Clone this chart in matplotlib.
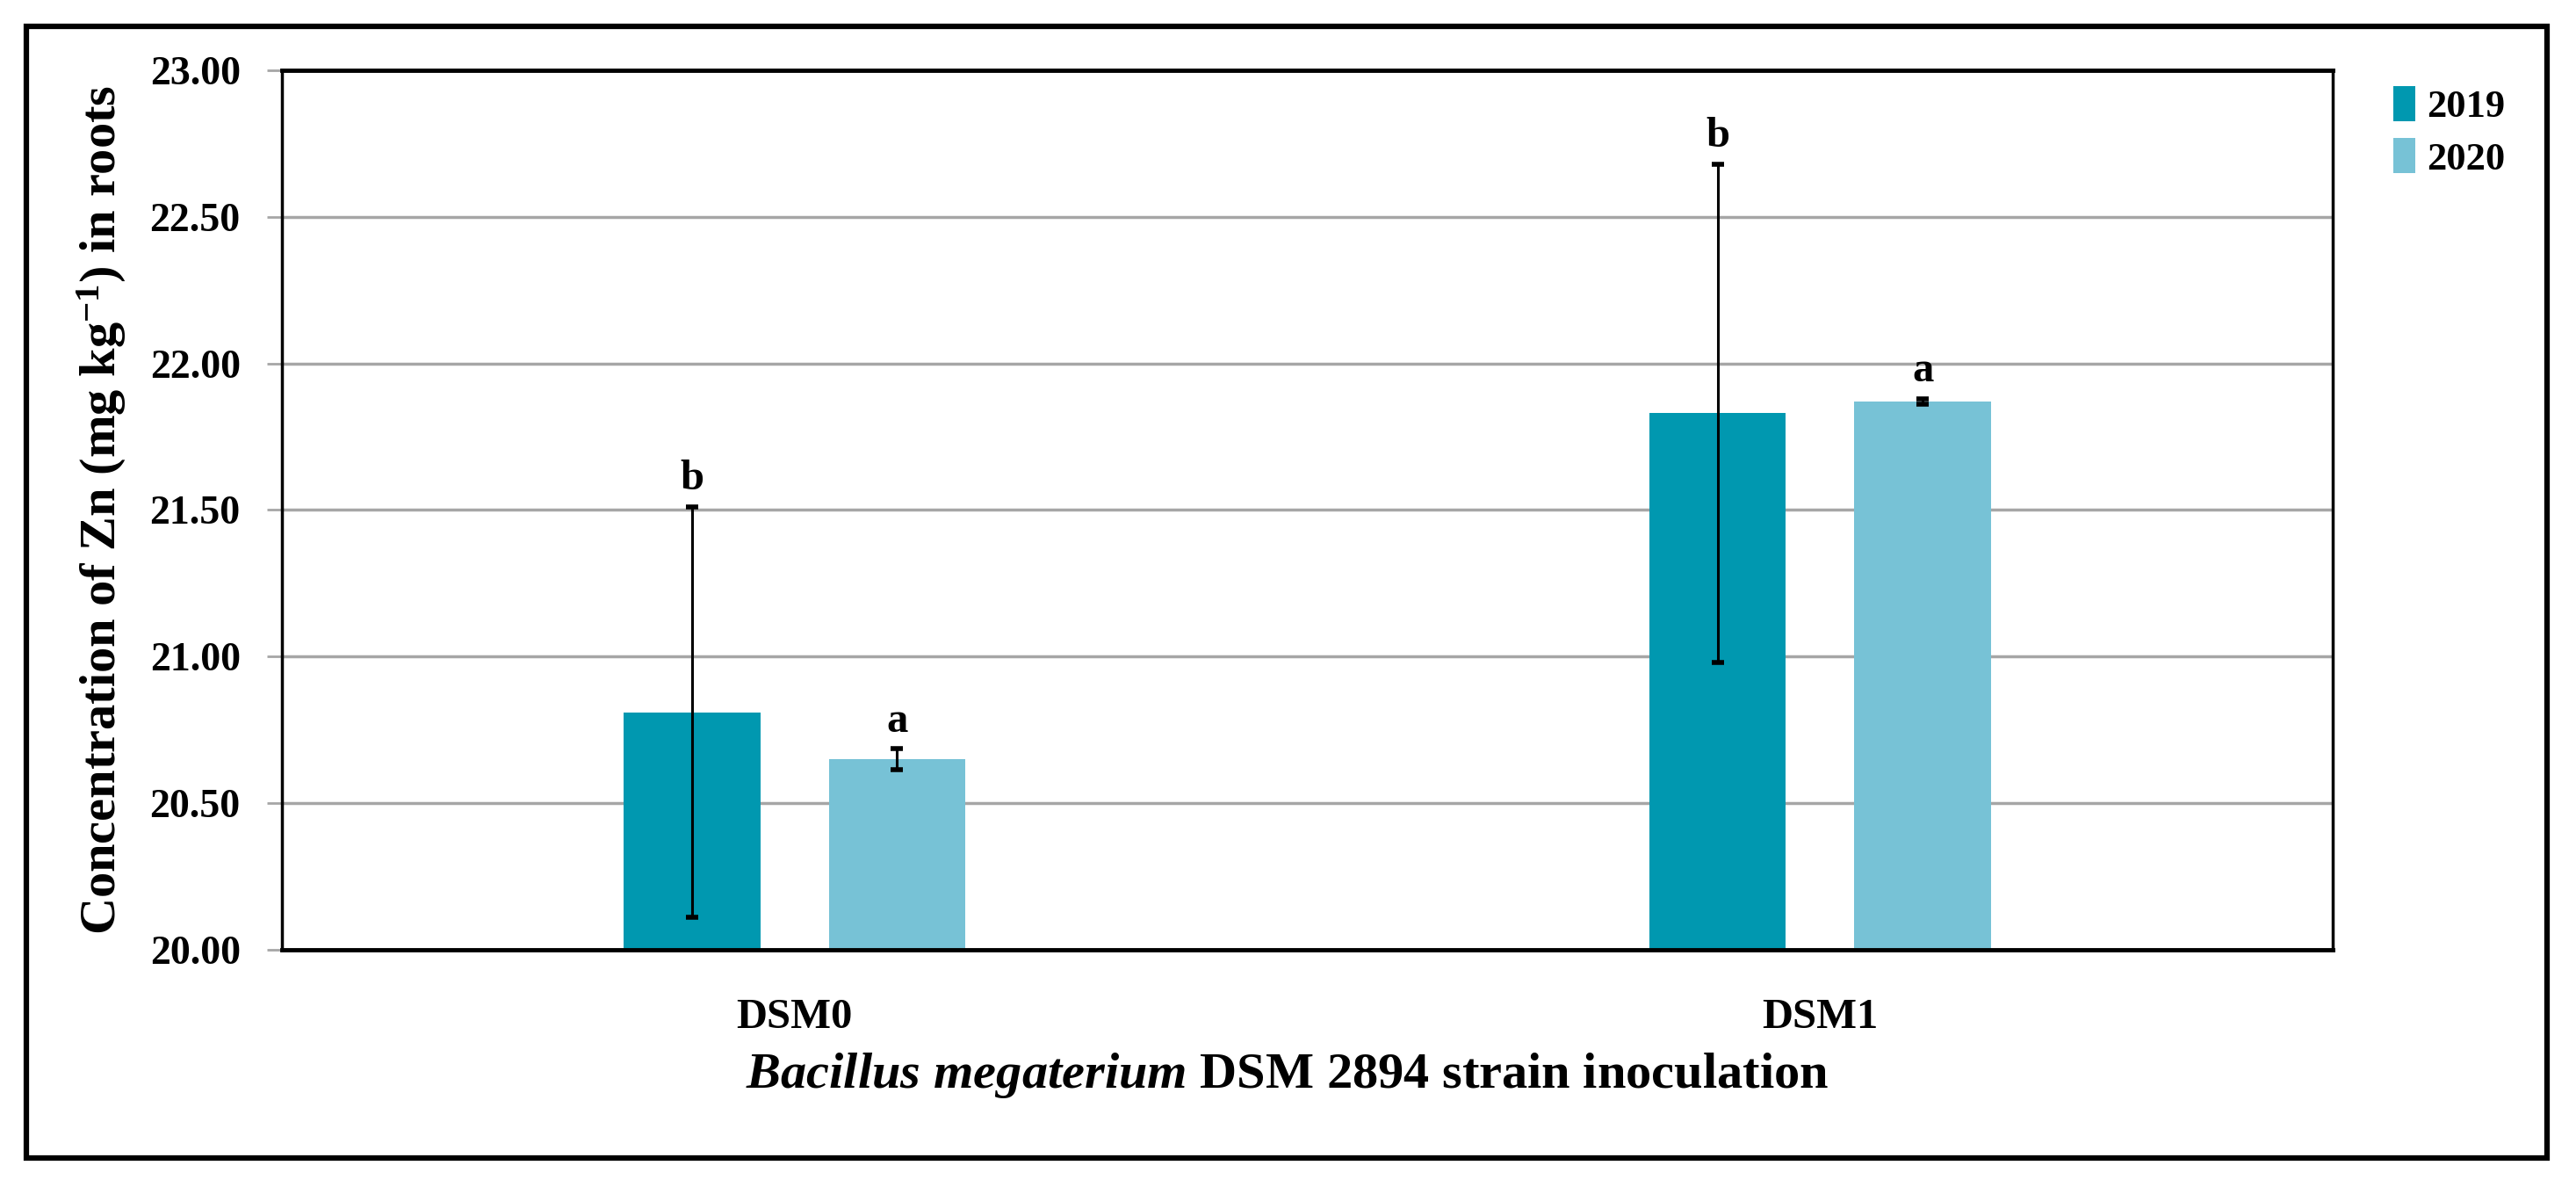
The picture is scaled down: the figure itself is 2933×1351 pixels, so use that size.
import numpy as np
import matplotlib
matplotlib.use('Agg')
import matplotlib.pyplot as plt
from matplotlib.patches import Rectangle

# data
groups = ['DSM0', 'DSM1']
years = ['2019', '2020']
zn_2019 = [20.81, 21.83]
zn_2019_err = [0.70, 0.85]
zn_2020 = [20.65, 21.87]
zn_2020_err = [0.035, 0.01]
letters_2019 = ['b', 'b']
letters_2020 = ['a', 'a']
y_ticks = [20.0, 20.5, 21.0, 21.5, 22.0, 22.5, 23.0]

plt.rcParams['font.family'] = 'Liberation Serif'
plt.rcParams['font.weight'] = 'bold'
plt.rcParams['mathtext.fontset'] = 'custom'
plt.rcParams['mathtext.rm'] = 'Liberation Serif:bold'
plt.rcParams['mathtext.it'] = 'Liberation Serif:italic:bold'
plt.rcParams['mathtext.bf'] = 'Liberation Serif:bold'

col_2019 = '#0098B0'
col_2020 = '#77C2D6'

fig = plt.figure(figsize=(29.33, 13.51), dpi=100)
ax = fig.add_axes([0.1094, 0.1999, 0.7962, 0.7409])

x = np.arange(len(groups))
w = 0.133
off = 0.1
ax.bar(x - off, zn_2019, w, bottom=0, color=col_2019, label=years[0], zorder=2)
ax.bar(x + off, zn_2020, w, bottom=0, color=col_2020, label=years[1], zorder=2)
ax.errorbar(x - off, zn_2019, yerr=zn_2019_err, fmt='none', ecolor='black',
            elinewidth=2.2, capsize=5, capthick=4, zorder=3)
ax.errorbar(x + off, zn_2020, yerr=zn_2020_err, fmt='none', ecolor='black',
            elinewidth=2.2, capsize=5, capthick=4, zorder=3)

for i in range(len(groups)):
    ax.annotate(letters_2019[i], (x[i] - off, zn_2019[i] + zn_2019_err[i]),
                xytext=(0, 7), textcoords='offset points', ha='center', va='bottom',
                fontsize=35, fontweight='bold')
    ax.annotate(letters_2020[i], (x[i] + off, zn_2020[i] + zn_2020_err[i]),
                xytext=(0, 7), textcoords='offset points', ha='center', va='bottom',
                fontsize=35, fontweight='bold')

ax.set_ylim(20, 23)
ax.set_xlim(-0.5, 1.5)
ax.set_yticks(y_ticks)
ax.set_yticklabels([f'{t:.2f}' for t in y_ticks])
ax.set_xticks(x)
ax.set_xticklabels(groups)
ax.yaxis.grid(True, color='#a6a6a6', linewidth=2.5, zorder=0)
ax.set_axisbelow(True)
ax.tick_params(axis='y', length=12, width=2, color='#a6a6a6', pad=22, labelsize=33)
ax.tick_params(axis='x', length=0, pad=40, labelsize=35)
for s in ax.spines.values():
    s.set_color('black')
    s.set_linewidth(2.5)
ax.spines['top'].set_linewidth(3.5)
ax.spines['bottom'].set_linewidth(3.5)

ax.set_ylabel(r'Concentration of Zn (mg kg$^{\mathbf{-1}}$) in roots', fontsize=42,
              fontweight='bold')
ax.yaxis.set_label_coords(-0.075, 0.5)
ax.set_xlabel(r'$\mathit{Bacillus\ megaterium}$ DSM 2894 strain inoculation',
              fontsize=42, fontweight='bold')
ax.xaxis.set_label_coords(0.49, -0.115)

ax.legend(loc='upper left', bbox_to_anchor=(1.022, 1.0), frameon=False,
          fontsize=32, handlelength=0.55, handleheight=1.0, handletextpad=0.3,
          labelspacing=0.35, borderaxespad=0)

fig.patches.append(Rectangle((0.0102, 0.0244), 0.9786, 0.9536, transform=fig.transFigure,
                             fill=False, edgecolor='black', linewidth=4.5))

fig.savefig('out.png', dpi=100)
